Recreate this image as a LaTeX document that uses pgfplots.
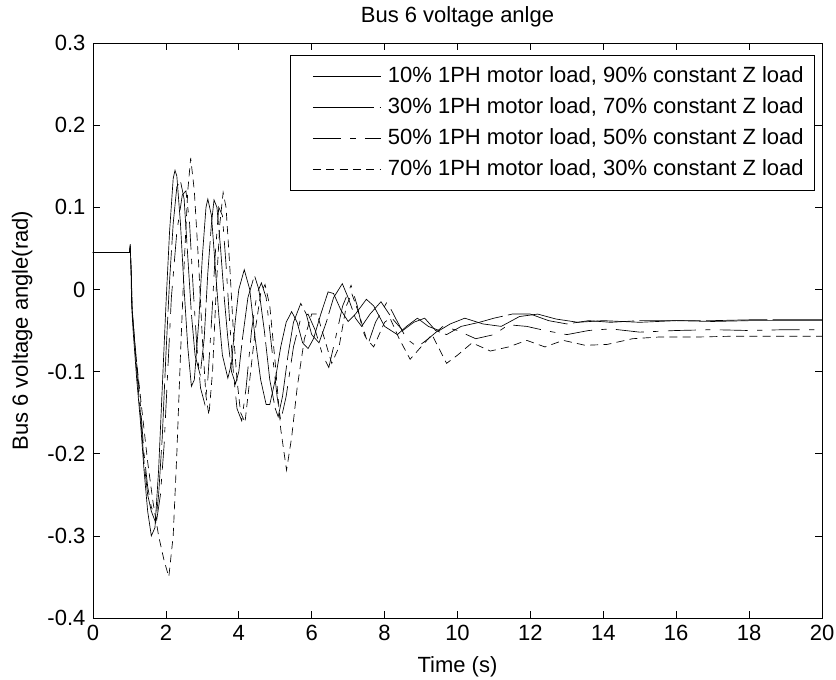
\documentclass[border=0pt]{standalone}
\usepackage{fontspec}
\setmainfont{Liberation Sans}
\usepackage{pgfplots}
\pgfplotsset{compat=1.18}

\begin{document}
\fontsize{16.5}{19}\selectfont
\begin{tikzpicture}
% page = reference size (836x679 px at 0.75pt/px), axis box at origin
\useasboundingbox (-69.75pt,-45.75pt) rectangle (557.25pt,463.5pt);
\begin{axis}[
  scale only axis,
  width=546.75pt, height=431.25pt,
  xmin=0, xmax=20, ymin=-0.4, ymax=0.3,
  xtick={0,2,...,20},
  ytick={-0.4,-0.3,-0.2,-0.1,0,0.1,0.2,0.3},
  yticklabels={-0.4,-0.3,-0.2,-0.1,0,0.1,0.2,0.3},
  xticklabels={0,2,4,6,8,10,12,14,16,18,20},
  tick align=inside,
  major tick length=5pt,
  tick style={black, line width=0.5pt},
  axis line style={line width=0.5pt},
  title={Bus 6 voltage anlge},
  xlabel={Time (s)},
  ylabel={Bus 6 voltage angle(rad)},
  legend cell align=left,
  legend style={at={(0.990,0.979)}, anchor=north east, draw=black,
    line width=0.5pt, row sep=4.8pt, inner xsep=6pt, inner ysep=6.5pt},
  legend image code/.code={\path (-12pt,0pt) (53pt,0pt); \draw[#1] (-1pt,0pt) -- (50pt,0pt);},
]

% 10% motor load
\addplot[black, line width=0.5pt, no markers, solid] table {
0 0.045
1.0 0.045
1.02 0.055
1.04 0.03
1.06 -0.02
1.1 -0.05
1.2 -0.11
1.3 -0.16
1.4 -0.22
1.5 -0.27
1.6 -0.30
1.7 -0.29
1.8 -0.22
1.9 -0.12
2.0 -0.02
2.1 0.07
2.2 0.135
2.25 0.145
2.3 0.138
2.4 0.08
2.5 0.0
2.6 -0.07
2.7 -0.118
2.78 -0.11
2.9 -0.04
3.0 0.04
3.1 0.10
3.15 0.11
3.25 0.09
3.35 0.03
3.45 -0.03
3.55 -0.08
3.7 -0.108
3.8 -0.09
3.9 -0.04
4.0 0.0
4.15 0.024
4.3 0.0
4.45 -0.06
4.6 -0.11
4.75 -0.14
4.85 -0.14
5.0 -0.11
5.15 -0.07
5.3 -0.04
5.45 -0.027
5.6 -0.04
5.75 -0.065
5.9 -0.072
6.05 -0.06
6.25 -0.03
6.45 -0.003
6.6 -0.005
6.8 -0.025
7.0 -0.039
7.2 -0.03
7.5 -0.012
7.7 -0.02
8.0 -0.045
8.35 -0.055
8.6 -0.045
8.9 -0.035
9.2 -0.045
9.5 -0.05
9.8 -0.042
10.2 -0.035
10.7 -0.042
11.2 -0.045
11.7 -0.033
12.2 -0.03
12.7 -0.036
13.3 -0.04
14.0 -0.038
15.0 -0.04
16.0 -0.038
17.0 -0.039
18.0 -0.038
19.0 -0.038
20.0 -0.038
};
\addlegendentry{10\% 1PH motor load, 90\% constant Z load}

% 30% motor load
\addplot[black, line width=0.5pt, no markers, dash pattern=on 46pt off 4pt] table {
0 0.045
1.0 0.045
1.02 0.053
1.05 0.02
1.07 -0.02
1.2 -0.10
1.3 -0.15
1.4 -0.21
1.5 -0.25
1.6 -0.27
1.72 -0.284
1.8 -0.25
1.9 -0.18
2.0 -0.08
2.1 0.01
2.2 0.08
2.3 0.125
2.4 0.132
2.5 0.11
2.6 0.04
2.7 -0.03
2.8 -0.08
2.94 -0.104
3.05 -0.06
3.15 0.02
3.25 0.08
3.32 0.109
3.4 0.10
3.5 0.05
3.6 -0.01
3.7 -0.06
3.8 -0.10
3.91 -0.115
4.0 -0.10
4.1 -0.06
4.25 -0.01
4.43 0.017
4.55 0.0
4.7 -0.05
4.85 -0.11
5.0 -0.145
5.08 -0.155
5.2 -0.13
5.35 -0.08
5.5 -0.04
5.7 -0.017
5.85 -0.03
6.0 -0.055
6.2 -0.065
6.4 -0.04
6.6 -0.01
6.84 0.007
7.0 -0.01
7.2 -0.035
7.37 -0.045
7.6 -0.03
7.9 -0.015
8.2 -0.035
8.5 -0.05
8.8 -0.04
9.1 -0.035
9.4 -0.05
9.7 -0.055
10.1 -0.045
10.6 -0.04
11.0 -0.035
11.5 -0.03
12.0 -0.03
12.5 -0.038
13.0 -0.042
13.6 -0.038
14.2 -0.04
15.0 -0.038
16.0 -0.038
17.0 -0.038
18.0 -0.037
19.0 -0.037
20.0 -0.037
};
\addlegendentry{30\% 1PH motor load, 70\% constant Z load}

% 50% motor load
\addplot[black, line width=0.5pt, no markers, dash pattern=on 21pt off 7pt on 4pt off 7pt] table {
0 0.045
1.0 0.045
1.02 0.05
1.05 0.02
1.08 -0.03
1.2 -0.09
1.3 -0.14
1.4 -0.20
1.5 -0.24
1.6 -0.265
1.75 -0.28
1.85 -0.25
1.95 -0.19
2.05 -0.10
2.15 -0.01
2.3 0.07
2.45 0.115
2.55 0.12
2.65 0.08
2.75 0.0
2.85 -0.07
2.95 -0.12
3.07 -0.14
3.15 -0.11
3.25 -0.04
3.35 0.04
3.45 0.10
3.55 0.09
3.65 0.03
3.75 -0.04
3.85 -0.10
3.95 -0.145
4.08 -0.16
4.2 -0.12
4.35 -0.05
4.5 -0.005
4.62 0.008
4.75 -0.01
4.9 -0.07
5.05 -0.13
5.15 -0.16
5.3 -0.13
5.5 -0.07
5.7 -0.035
5.9 -0.03
6.1 -0.05
6.3 -0.08
6.47 -0.095
6.65 -0.06
6.85 -0.02
7.08 0.005
7.25 -0.02
7.4 -0.05
7.55 -0.066
7.75 -0.04
8.07 -0.015
8.3 -0.035
8.6 -0.06
8.9 -0.07
9.2 -0.06
9.6 -0.045
10.0 -0.05
10.5 -0.06
11.0 -0.055
11.4 -0.043
11.9 -0.045
12.4 -0.05
13.0 -0.055
13.6 -0.05
14.2 -0.048
15.0 -0.052
16.0 -0.05
17.0 -0.049
18.0 -0.05
19.0 -0.049
20.0 -0.049
};
\addlegendentry{50\% 1PH motor load, 50\% constant Z load}

% 70% motor load
\addplot[black, line width=0.5pt, no markers, dash pattern=on 6pt off 4pt] table {
0 0.045
1.0 0.045
1.02 0.05
1.05 0.02
1.08 -0.03
1.2 -0.09
1.35 -0.15
1.5 -0.21
1.65 -0.26
1.8 -0.30
1.95 -0.33
2.08 -0.35
2.2 -0.30
2.3 -0.20
2.4 -0.08
2.5 0.03
2.6 0.12
2.68 0.16
2.78 0.12
2.9 0.03
3.0 -0.06
3.1 -0.13
3.18 -0.153
3.28 -0.10
3.38 0.0
3.48 0.08
3.57 0.118
3.65 0.10
3.75 0.03
3.85 -0.05
3.95 -0.11
4.05 -0.15
4.17 -0.162
4.3 -0.11
4.45 -0.05
4.6 -0.005
4.72 0.006
4.85 -0.02
5.0 -0.09
5.15 -0.17
5.31 -0.22
5.45 -0.18
5.6 -0.12
5.8 -0.06
6.0 -0.03
6.15 -0.03
6.35 -0.06
6.55 -0.09
6.75 -0.07
6.95 -0.02
7.1 -0.005
7.3 -0.03
7.5 -0.06
7.7 -0.07
8.0 -0.04
8.15 -0.035
8.4 -0.06
8.7 -0.085
9.0 -0.07
9.3 -0.055
9.7 -0.09
10.0 -0.08
10.4 -0.065
10.9 -0.075
11.4 -0.07
11.9 -0.062
12.4 -0.07
12.9 -0.062
13.5 -0.068
14.1 -0.067
14.8 -0.06
15.5 -0.058
16.5 -0.058
17.5 -0.057
18.5 -0.057
20.0 -0.057
};
\addlegendentry{70\% 1PH motor load, 30\% constant Z load}

\end{axis}
\end{tikzpicture}
\end{document}
